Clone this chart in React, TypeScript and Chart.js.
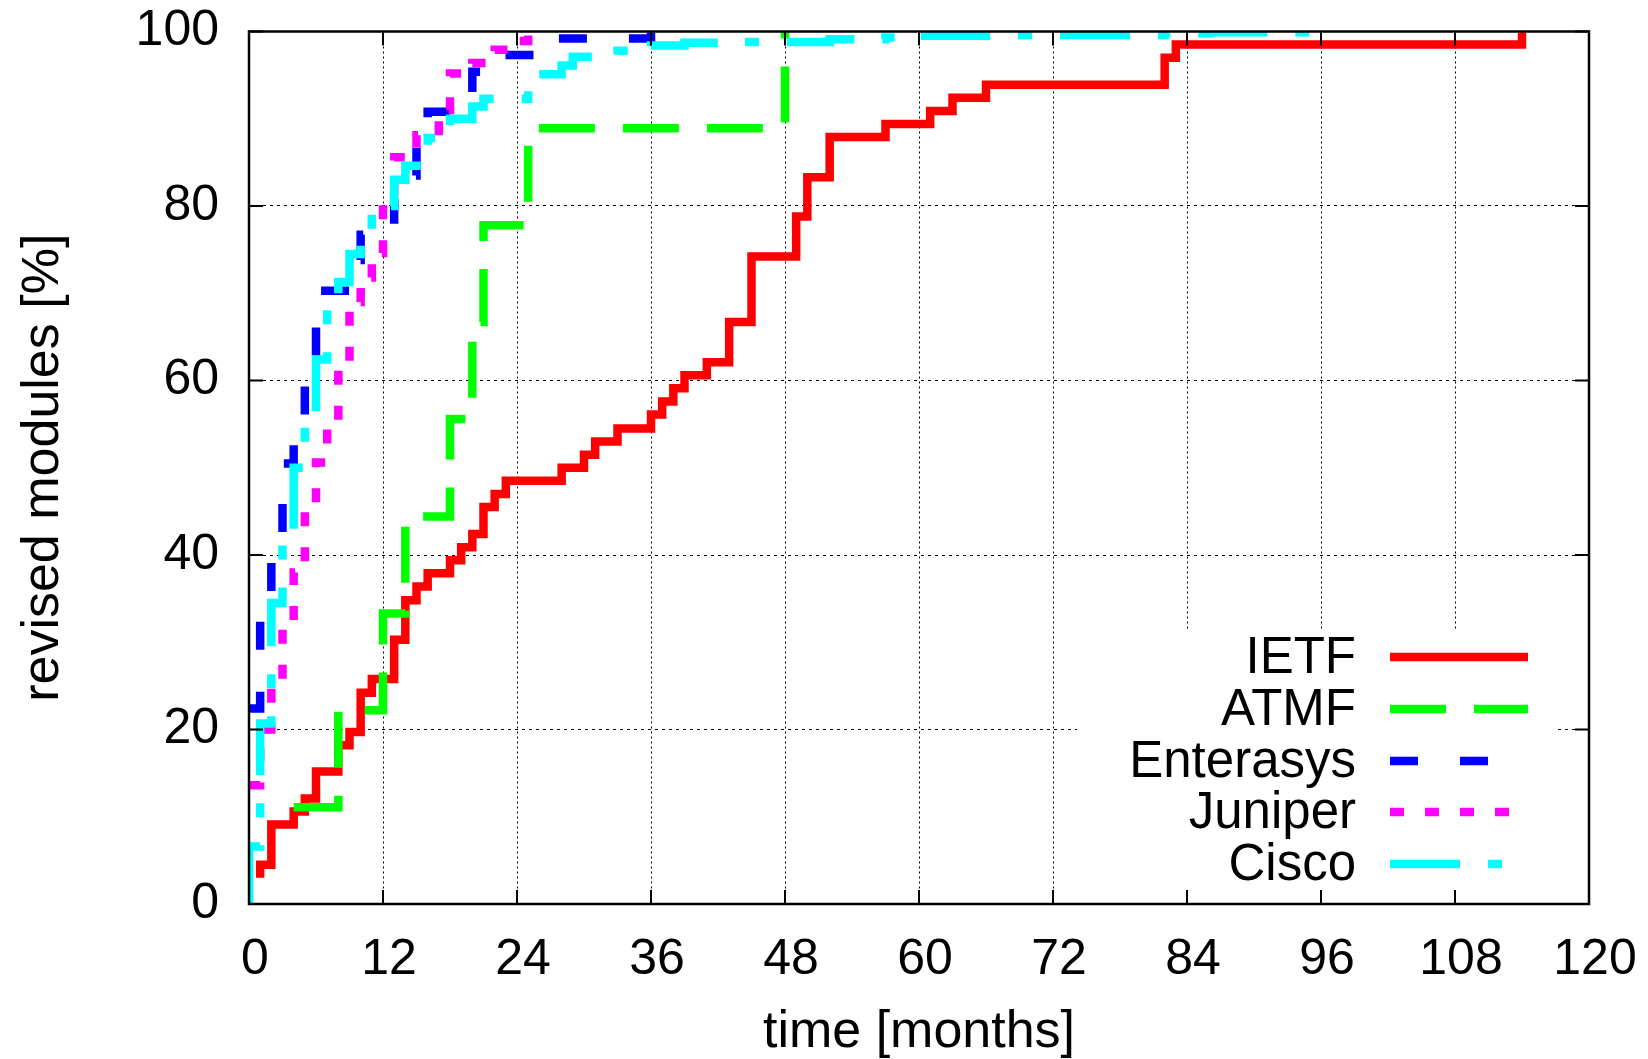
import React, { useEffect, useRef } from "react";
import { Chart, registerables } from "chart.js";

Chart.register(...registerables);

const W = 1648;
const H = 1059;

// ---- data (months since publication, cumulative % of revised modules) ----
const ietfMonths = [1, 1, 2, 4, 5, 6, 8, 9, 10, 11, 13, 14, 15, 16, 18, 19, 20, 21, 22, 23, 28, 30, 31, 33, 36, 37, 38, 39, 41, 43, 45, 49, 50, 52, 57, 61, 63, 66, 82, 83, 114];
const ietfPercent = [3.0, 4.5, 9.1, 10.6, 12.1, 15.2, 18.2, 19.7, 24.2, 25.8, 30.3, 34.8, 36.4, 37.9, 39.4, 40.9, 42.4, 45.5, 47.0, 48.5, 50.0, 51.5, 53.0, 54.5, 56.1, 57.6, 59.1, 60.6, 62.1, 66.7, 74.2, 78.8, 83.3, 87.9, 89.4, 90.9, 92.4, 93.9, 97.0, 98.5, 100];

const atmfMonths = [4, 8, 12, 14, 18, 20, 21, 25, 48];
const atmfPercent = [11.1, 22.2, 33.3, 44.4, 55.6, 66.7, 77.8, 88.9, 100];

const enterasysMonths = [0, 1, 2, 3, 4, 5, 6, 9, 10, 13, 14, 15, 16, 20, 22, 27, 36];
const enterasysPercent = [22.4, 34.2, 41.0, 50.5, 54.5, 61.5, 70.3, 73.8, 76.7, 80.9, 83.5, 87.5, 90.8, 95.4, 97.3, 99.2, 100];

const juniperMonths = [0, 1, 2, 3, 4, 5, 6, 7, 8, 9, 10, 11, 12, 13, 15, 17, 18, 20, 22, 24, 25];
const juniperPercent = [13.6, 20.0, 25.5, 32.3, 38.0, 45.8, 50.6, 55.2, 62.1, 69.0, 71.8, 74.6, 80.5, 85.6, 88.1, 91.0, 95.2, 96.4, 97.9, 98.9, 100];

const ciscoMonths = [0, 0, 1, 2, 3, 4, 5, 6, 7, 8, 9, 10, 11, 13, 14, 15, 16, 18, 20, 21, 25, 28, 29, 33, 36, 39, 44, 52, 57, 60, 66, 82, 86, 95];
const ciscoPercent = [0, 6.6, 20.7, 34.5, 42.2, 50.0, 56.5, 62.4, 69.0, 71.3, 74.5, 77.3, 80.0, 83.0, 84.6, 86.2, 87.8, 90.0, 91.4, 92.3, 95.1, 96.1, 97.1, 97.8, 98.4, 98.7, 98.8, 99.1, 99.3, 99.5, 99.6, 99.8, 99.9, 100];

const seriesNames = ["IETF", "ATMF", "Enterasys", "Juniper", "Cisco"];
const seriesColors = ["#ff0000", "#00ff00", "#0000ff", "#ff00ff", "#00ffff"];
const seriesDashes: number[][] = [[], [56, 28], [28, 42], [14, 21], [70, 28, 14, 28]];

const xTickValues = [0, 12, 24, 36, 48, 60, 72, 84, 96, 108, 120];
const yTickValues = [0, 20, 40, 60, 80, 100];

const xTitle = "time [months]";
const yTitle = "revised modules [%]";

const FONT = "'Liberation Sans', Arial, Helvetica, sans-serif";
const LINE_W = 8.5;

const toPoints = (xs: number[], ys: number[]) => xs.map((x, i) => ({ x, y: ys[i] }));

const seriesData = [
  toPoints(ietfMonths, ietfPercent),
  toPoints(atmfMonths, atmfPercent),
  toPoints(enterasysMonths, enterasysPercent),
  toPoints(juniperMonths, juniperPercent),
  toPoints(ciscoMonths, ciscoPercent),
];

const framePlugin = {
  id: "gnuplotFrame",
  beforeDraw(chart: any) {
    const ctx = chart.ctx;
    ctx.save();
    ctx.fillStyle = "#ffffff";
    ctx.fillRect(0, 0, chart.width, chart.height);
    ctx.restore();
  },
  beforeDatasetsDraw(chart: any) {
    // key box (white, hides grid)
    const ctx = chart.ctx;
    const a = chart.chartArea;
    ctx.save();
    ctx.fillStyle = "#ffffff";
    ctx.fillRect(1077, 631, 1558 - 1077, a.bottom - 631);
    ctx.restore();
  },
  afterDatasetsDraw(chart: any) {
    const ctx = chart.ctx;
    const a = chart.chartArea;
    const xs = chart.scales.x;
    const ys = chart.scales.y;
    ctx.save();
    ctx.strokeStyle = "#000";
    ctx.lineWidth = 2;
    ctx.setLineDash([]);
    ctx.beginPath();
    const TL = 14;
    xTickValues.forEach((v) => {
      const px = xs.getPixelForValue(v);
      ctx.moveTo(px, a.bottom);
      ctx.lineTo(px, a.bottom - TL);
      ctx.moveTo(px, a.top);
      ctx.lineTo(px, a.top + TL);
    });
    yTickValues.forEach((v) => {
      const py = ys.getPixelForValue(v);
      ctx.moveTo(a.left, py);
      ctx.lineTo(a.left + TL, py);
      ctx.moveTo(a.right, py);
      ctx.lineTo(a.right - TL, py);
    });
    ctx.stroke();
    ctx.lineWidth = 2.5;
    ctx.strokeRect(a.left, a.top, a.right - a.left, a.bottom - a.top);

    // key
    const textRight = 1356;
    const sx0 = 1390;
    const sx1 = 1528;
    const rowY = [657, 709, 761, 812, 864];
    ctx.font = `51px ${FONT}`;
    ctx.textAlign = "right";
    ctx.textBaseline = "middle";
    seriesNames.forEach((name, i) => {
      ctx.fillStyle = "#000";
      ctx.fillText(name, textRight, rowY[i] + 2);
      ctx.beginPath();
      ctx.strokeStyle = seriesColors[i];
      ctx.lineWidth = LINE_W;
      ctx.lineCap = "butt";
      ctx.setLineDash(seriesDashes[i]);
      ctx.moveTo(sx0, rowY[i]);
      ctx.lineTo(sx1, rowY[i]);
      ctx.stroke();
    });
    ctx.restore();
  },
};

const zeroPad = (scale: any) => {
  scale.paddingTop = 0;
  scale.paddingBottom = 0;
  scale.paddingLeft = 0;
  scale.paddingRight = 0;
};

export default function App() {
  const ref = useRef<HTMLCanvasElement>(null);

  useEffect(() => {
    document.body.style.margin = "0";
    const canvas = ref.current;
    if (!canvas) return;
    Chart.defaults.font.family = FONT;
    Chart.defaults.color = "#000";

    const chart = new Chart(canvas, {
      type: "line",
      data: {
        datasets: seriesNames.map((name, i) => ({
          label: name,
          data: seriesData[i],
          borderColor: seriesColors[i],
          backgroundColor: seriesColors[i],
          borderWidth: LINE_W,
          borderDash: seriesDashes[i],
          borderCapStyle: "butt",
          borderJoinStyle: "miter",
          pointRadius: 0,
          pointHoverRadius: 0,
          stepped: "before",
          fill: false,
          tension: 0,
          order: seriesNames.length - i,
        })),
      },
      options: {
        responsive: false,
        animation: false,
        devicePixelRatio: 1,
        layout: { padding: { left: 0, top: 31.5, right: 59, bottom: 0 } },
        plugins: {
          legend: { display: false },
          tooltip: { enabled: false },
        },
        events: [],
        scales: {
          x: {
            type: "linear",
            min: 0,
            max: 120,
            afterBuildTicks: (scale: any) => {
              scale.ticks = xTickValues.map((v) => ({ value: v }));
            },
            afterFit: (scale: any) => {
              scale.height = H - 904;
              zeroPad(scale);
            },
            ticks: {
              autoSkip: false,
              maxRotation: 0,
              padding: 26,
              labelOffset: 6,
              color: "#000",
              font: { size: 50, family: FONT },
            },
            grid: {
              color: "#000",
              lineWidth: 1,
              drawTicks: false,
            },
            border: { display: false, dash: [2, 3] },
            title: {
              display: true,
              text: xTitle,
              color: "#000",
              font: { size: 52, family: FONT, lineHeight: 1 },
              padding: { top: 0, bottom: 0 },
            },
          },
          y: {
            type: "linear",
            min: 0,
            max: 100,
            afterBuildTicks: (scale: any) => {
              scale.ticks = yTickValues.map((v) => ({ value: v }));
            },
            afterFit: (scale: any) => {
              scale.width = 249;
              zeroPad(scale);
            },
            ticks: {
              padding: 30,
              color: "#000",
              font: { size: 50, family: FONT },
            },
            grid: {
              color: "#000",
              lineWidth: 1,
              drawTicks: false,
            },
            border: { display: false, dash: [3, 4] },
            title: {
              display: true,
              text: yTitle,
              color: "#000",
              font: { size: 52, family: FONT, lineHeight: 1 },
              padding: { top: 18, bottom: 0 },
            },
          },
        },
      },
      plugins: [framePlugin],
    } as any);

    return () => chart.destroy();
  }, []);

  return (
    <div style={{ position: "absolute", left: 0, top: 0, width: W, height: H, background: "#fff" }}>
      <canvas ref={ref} width={W} height={H} style={{ display: "block", width: W, height: H }} />
    </div>
  );
}
